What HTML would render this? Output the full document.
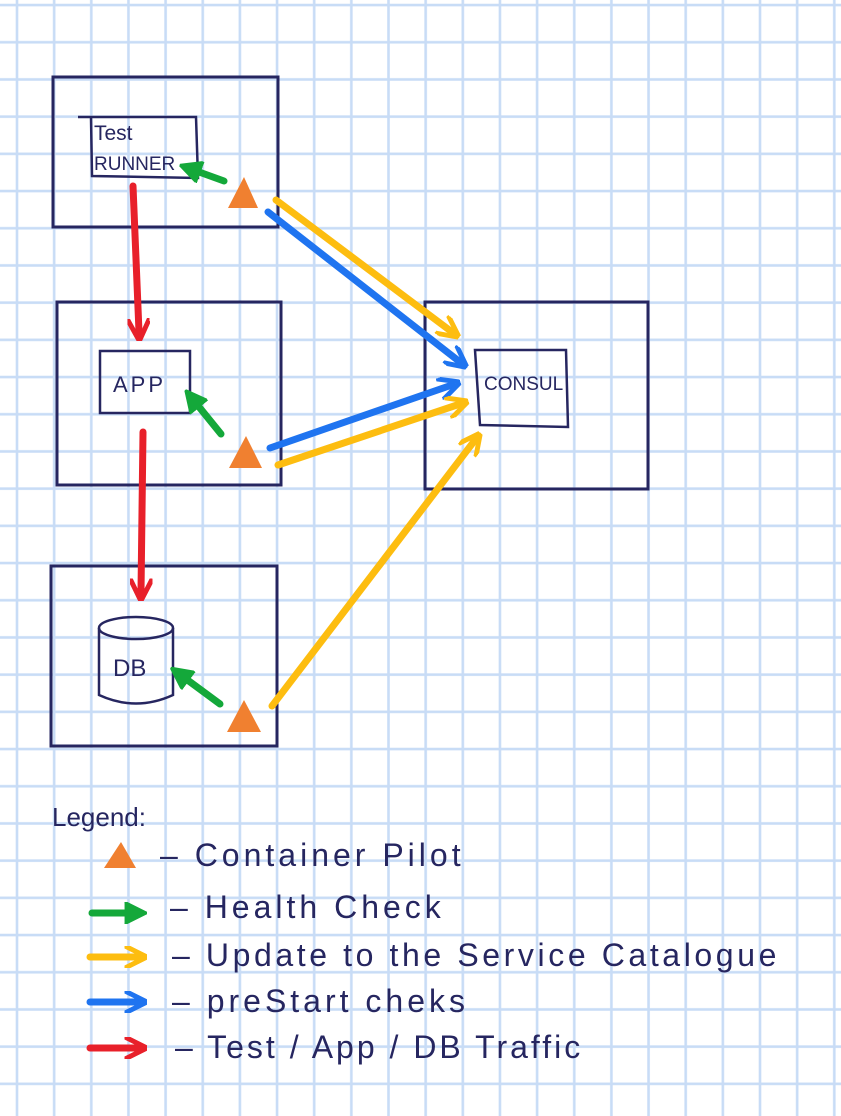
<!DOCTYPE html>
<html><head><meta charset="utf-8"><style>html,body{margin:0;padding:0;background:#fff}svg{display:block}</style></head>
<body>
<svg width="841" height="1116" viewBox="0 0 841 1116" xmlns="http://www.w3.org/2000/svg">
<defs>
<pattern id="g" x="15.5" y="3.5" width="37.15" height="37.2" patternUnits="userSpaceOnUse">
<path d="M1.5 0V37.2M0 1.5H37.15" stroke="#c8dcf6" stroke-width="2.6" fill="none"/>
</pattern>
<marker id="r" viewBox="0 0 10 10" refX="6" refY="5" markerWidth="3.2" markerHeight="3.2" orient="auto"><path d="M0 0L10 5L0 10" fill="none" stroke="#e8202a" stroke-width="2.2"/></marker>
<marker id="gr" viewBox="0 0 10 10" refX="6" refY="5" markerWidth="3.2" markerHeight="3.2" orient="auto"><path d="M0 0L10 5L0 10" fill="#14a83a" stroke="#14a83a" stroke-width="1"/></marker>
<marker id="y" viewBox="0 0 10 10" refX="6" refY="5" markerWidth="3.2" markerHeight="3.2" orient="auto"><path d="M0 0L10 5L0 10" fill="none" stroke="#fdbd10" stroke-width="2.2"/></marker>
<marker id="b" viewBox="0 0 10 10" refX="6" refY="5" markerWidth="3.2" markerHeight="3.2" orient="auto"><path d="M0 0L10 5L0 10" fill="none" stroke="#1f74f0" stroke-width="2.2"/></marker>
</defs>
<rect width="841" height="1116" fill="url(#g)"/>
<g fill="none" stroke="#262660" stroke-width="3">
<rect x="53" y="77" width="225" height="150"/>
<rect x="57" y="302" width="224" height="183"/>
<rect x="51" y="566" width="226" height="180"/>
<rect x="425" y="302" width="223" height="187"/>
<path d="M78 117H196L198 178L92 176L91 117" stroke-width="2.5"/>
<rect x="100" y="351" width="90" height="62" stroke-width="2.5"/>
<path d="M475 350H566L568 427L480 425Z" stroke-width="2.5"/>
<path d="M99 628V695Q136 712 173 695V628" stroke-width="2.5"/>
<ellipse cx="136" cy="628" rx="37" ry="11" stroke-width="2.5"/>
</g>
<g font-family="Liberation Sans, sans-serif" fill="#262660">
<text x="94" y="140" font-size="21">Test</text>
<text x="94" y="170" font-size="19">RUNNER</text>
<text x="113" y="392" font-size="22" letter-spacing="3">APP</text>
<text x="484" y="390" font-size="19">CONSUL</text>
<text x="113" y="676" font-size="24">DB</text>
</g>
<g stroke-width="7" stroke-linecap="round" fill="none">
<path d="M133 186L139 332" stroke="#e8202a" marker-end="url(#r)"/>
<path d="M143 432L141 592" stroke="#e8202a" marker-end="url(#r)"/>
<path d="M224 181L188 168" stroke="#14a83a" marker-end="url(#gr)"/>
<path d="M221 434L191 397" stroke="#14a83a" marker-end="url(#gr)"/>
<path d="M220 704L178 673" stroke="#14a83a" marker-end="url(#gr)"/>
<path d="M276 200L452 332" stroke="#fdbd10" marker-end="url(#y)"/>
<path d="M268 212L460 362" stroke="#1f74f0" marker-end="url(#b)"/>
<path d="M270 448L452 385" stroke="#1f74f0" marker-end="url(#b)"/>
<path d="M278 465L460 404" stroke="#fdbd10" marker-end="url(#y)"/>
<path d="M272 706L475 440" stroke="#fdbd10" marker-end="url(#y)"/>
<path d="M92 913L138 913" stroke="#14a83a" marker-end="url(#gr)"/>
<path d="M90 957L138 957" stroke="#fdbd10" marker-end="url(#y)"/>
<path d="M90 1002L138 1002" stroke="#1f74f0" marker-end="url(#b)"/>
<path d="M90 1048L138 1048" stroke="#e8202a" marker-end="url(#r)"/>
</g>
<g fill="#f08030">
<path d="M228 208L244 177L258 208Z"/>
<path d="M229 468L246 436L262 468Z"/>
<path d="M227 732L244 700L261 732Z"/>
<path d="M104 868L121 842L136 868Z"/>
</g>
<g font-family="Liberation Sans, sans-serif" fill="#262660" font-weight="300">
<text x="52" y="826" font-size="26">Legend:</text>
<text x="160" y="866" font-size="32" letter-spacing="4">– Container Pilot</text>
<text x="170" y="918" font-size="32" letter-spacing="4">– Health Check</text>
<text x="172" y="966" font-size="32" letter-spacing="3.6">– Update to the Service Catalogue</text>
<text x="172" y="1012" font-size="32" letter-spacing="4">– preStart cheks</text>
<text x="175" y="1058" font-size="32" letter-spacing="3">– Test / App / DB Traffic</text>
</g>
</svg>
</body></html>
